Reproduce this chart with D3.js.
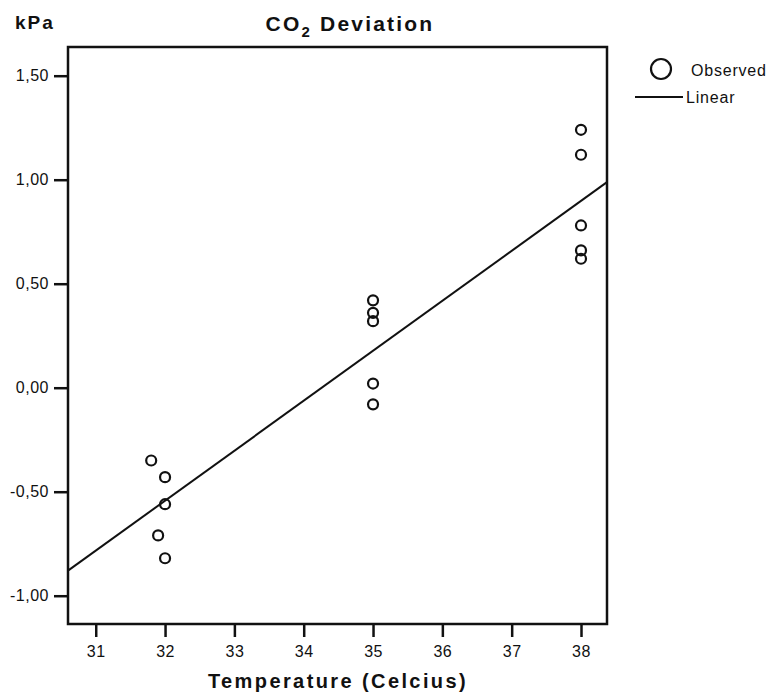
<html>
<head>
<style>
body { margin: 0; background: #fff; }
text { font-family: "Liberation Sans", Arial, sans-serif; fill: #111; }
</style>
</head>
<body>
<div id="vis"></div>
<script src="https://cdn.jsdelivr.net/npm/d3@7"></script>
<script>
// observed points
var temps = [31.8, 32, 32, 31.9, 32, 35, 35, 35, 35, 35, 38, 38, 38, 38, 38];
var deviation = [-0.35, -0.43, -0.56, -0.71, -0.82, 0.42, 0.36, 0.32, 0.02, -0.08, 1.24, 1.12, 0.78, 0.66, 0.62];
var xTicks = [31, 32, 33, 34, 35, 36, 37, 38];
var yTicks = [-1.0, -0.5, 0, 0.5, 1.0, 1.5];

var width = 771, height = 692;
var margin = {top: 47, right: 164, bottom: 68, left: 68};

var svg = d3.select("#vis").append("svg")
		.attr("width", width)
		.attr("height", height);

var x = d3.scaleLinear()
		.domain([30.6, 38.375])
		.range([margin.left, width - margin.right]);
var y = d3.scaleLinear()
		.domain([-1.136, 1.638])
		.range([height - margin.bottom, margin.top]);

var data = temps.map(function(t, i) { return {t: t, v: deviation[i]}; });

// least squares fit
var mx = d3.mean(temps), my = d3.mean(deviation);
var sxy = d3.sum(data, function(d) { return (d.t - mx) * (d.v - my); });
var sxx = d3.sum(data, function(d) { return (d.t - mx) * (d.t - mx); });
var slope = sxy / sxx, icpt = my - slope * mx;

var fmt = function(v) { return d3.format(".2f")(v).replace(".", ",").replace("−", "-"); };

// axes
var xAxis = svg.append("g")
		.attr("transform", "translate(0," + (height - margin.bottom) + ")")
		.call(d3.axisBottom(x).tickValues(xTicks).tickSize(13).tickPadding(9));
var yAxis = svg.append("g")
		.attr("transform", "translate(" + margin.left + ",0)")
		.call(d3.axisLeft(y).tickValues(yTicks).tickFormat(fmt).tickSize(14).tickPadding(5));
[xAxis, yAxis].forEach(function(a) {
	a.select(".domain").remove();
	a.selectAll(".tick line").attr("stroke", "#111").attr("stroke-width", 2.5);
	a.selectAll(".tick text").attr("fill", "#111")
		.style("font-size", "16px").style("letter-spacing", "0.5px");
});

// frame
svg.append("rect")
		.attr("x", x.range()[0])
		.attr("y", y.range()[1])
		.attr("width", x.range()[1] - x.range()[0])
		.attr("height", y.range()[0] - y.range()[1])
		.attr("fill", "none")
		.attr("stroke", "#111")
		.attr("stroke-width", 2.5);

// fit line
var x0 = x.domain()[0], x1 = x.domain()[1];
svg.append("line")
		.attr("x1", x(x0)).attr("y1", y(icpt + slope * x0))
		.attr("x2", x(x1)).attr("y2", y(icpt + slope * x1))
		.attr("stroke", "#111")
		.attr("stroke-width", 2);

// points
svg.selectAll(".dot")
		.data(data)
	.enter().append("circle")
		.attr("class", "dot")
		.attr("cx", function(d) { return x(d.t); })
		.attr("cy", function(d) { return y(d.v); })
		.attr("r", 5)
		.attr("fill", "none")
		.attr("stroke", "#111")
		.attr("stroke-width", 2.2);

// titles
var title = svg.append("text")
		.attr("x", 350).attr("y", 31)
		.attr("text-anchor", "middle")
		.style("font-size", "21px").style("font-weight", "bold")
		.style("letter-spacing", "2.2px");
title.append("tspan").text("CO");
title.append("tspan").text("2").attr("dy", 6).style("font-size", "15px");
title.append("tspan").text(" Deviation").attr("dy", -6);

svg.append("text")
		.attr("x", 15).attr("y", 29)
		.style("font-size", "19px").style("font-weight", "bold")
		.style("letter-spacing", "2px")
		.text("kPa");

svg.append("text")
		.attr("x", 338).attr("y", 688)
		.attr("text-anchor", "middle")
		.style("font-size", "20px").style("font-weight", "bold")
		.style("letter-spacing", "2.4px")
		.text("Temperature (Celcius)");

// legend
var legend = svg.append("g");
legend.append("circle")
		.attr("cx", 661).attr("cy", 69).attr("r", 10)
		.attr("fill", "none").attr("stroke", "#111").attr("stroke-width", 2.2);
legend.append("text")
		.attr("x", 691).attr("y", 76)
		.style("font-size", "16px").style("letter-spacing", "0.8px")
		.text("Observed");
legend.append("line")
		.attr("x1", 635).attr("x2", 683).attr("y1", 97).attr("y2", 97)
		.attr("stroke", "#111").attr("stroke-width", 2);
legend.append("text")
		.attr("x", 686).attr("y", 103)
		.style("font-size", "16px").style("letter-spacing", "0.8px")
		.text("Linear");
</script>
</body>
</html>
